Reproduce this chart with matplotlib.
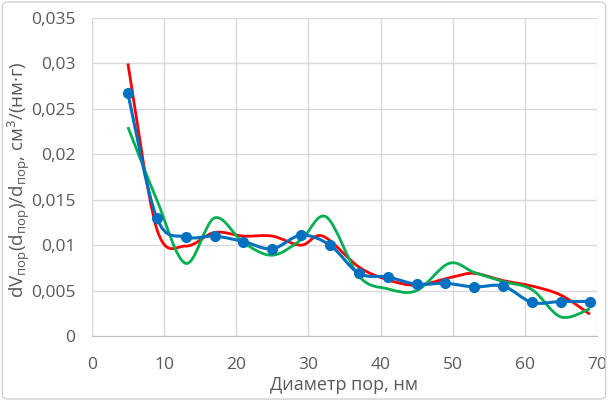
import numpy as np
import matplotlib
matplotlib.use('Agg')
import matplotlib.pyplot as plt
from matplotlib.path import Path
from matplotlib.patches import PathPatch, FancyBboxPatch
from matplotlib.ticker import FuncFormatter, MultipleLocator

plt.rcParams['font.family'] = ['Open Sans', 'DejaVu Sans']
plt.rcParams['mathtext.fontset'] = 'custom'
plt.rcParams['mathtext.rm'] = 'Open Sans'
plt.rcParams['mathtext.it'] = 'Open Sans'

# измеренные точки (синие)
x_meas = [5, 9, 13, 17, 21, 25, 29, 33, 37, 41, 45, 49, 53, 57, 61, 65, 69]
y_meas = [0.0267, 0.0130, 0.0109, 0.0110, 0.0104, 0.0096, 0.0111, 0.0100,
          0.0069, 0.0065, 0.0057, 0.0058, 0.0054, 0.0055, 0.0037, 0.0038, 0.0038]

# красная кривая
x_red = [5, 9, 13, 17, 21, 25, 29, 32, 37, 41, 45, 50, 53, 57, 61, 65, 69]
y_red = [0.0300, 0.0118, 0.0099, 0.0114, 0.0110, 0.0110, 0.0100, 0.0110,
         0.0076, 0.0062, 0.0056, 0.0065, 0.0069, 0.0061, 0.0055, 0.0045, 0.0024]

# зелёная кривая
x_green = [5, 9, 13, 17, 21, 25, 29, 32.5, 37, 41, 45, 49.5, 53, 57, 61, 65, 69]
y_green = [0.0230, 0.0150, 0.0080, 0.0130, 0.0103, 0.0089, 0.0106, 0.0131,
           0.0066, 0.0052, 0.0050, 0.0080, 0.0070, 0.0060, 0.0051, 0.0021, 0.0030]


def smooth_path(xs, ys):
    # сглаженная линия как в Excel (Catmull-Rom -> кривые Безье)
    p = np.column_stack([xs, ys]).astype(float)
    pts = np.vstack([p[0], p, p[-1]])
    verts = [tuple(p[0])]
    codes = [Path.MOVETO]
    for i in range(1, len(pts) - 2):
        c1 = pts[i] + (pts[i + 1] - pts[i - 1]) / 6
        c2 = pts[i + 1] - (pts[i + 2] - pts[i]) / 6
        verts += [tuple(c1), tuple(c2), tuple(pts[i + 1])]
        codes += [Path.CURVE4] * 3
    return Path(verts, codes)


fig = plt.figure(figsize=(6.08, 4.01), dpi=100)
ax = fig.add_axes([0.151, 0.162, 0.831, 0.793])

fig.patches.append(FancyBboxPatch((0.004, 0.005), 0.992, 0.99,
                                  boxstyle='round,pad=0,rounding_size=0.01',
                                  transform=fig.transFigure, fill=False,
                                  edgecolor='#d0d0d0', linewidth=1))

ax.add_patch(PathPatch(smooth_path(x_red, y_red), facecolor='none',
                       edgecolor='#ff0000', linewidth=2, zorder=3))
ax.add_patch(PathPatch(smooth_path(x_green, y_green), facecolor='none',
                       edgecolor='#00b050', linewidth=2, zorder=3))
ax.add_patch(PathPatch(smooth_path(x_meas, y_meas), facecolor='none',
                       edgecolor='#0070c0', linewidth=2.2, zorder=4))
ax.plot(x_meas, y_meas, linestyle='none', marker='o', markersize=7,
        color='#0070c0', zorder=5)

ax.set_xlim(0, 70)
ax.set_ylim(0, 0.035)
ax.xaxis.set_major_locator(MultipleLocator(10))
ax.yaxis.set_major_locator(MultipleLocator(0.005))
ax.yaxis.set_major_formatter(FuncFormatter(lambda v, pos: f'{v:g}'.replace('.', ',')))

ax.grid(True, color='#d9d9d9', linewidth=1)
ax.set_axisbelow(True)
for s in ['top', 'right', 'left']:
    ax.spines[s].set_visible(False)
ax.spines['bottom'].set_color('#bfbfbf')
ax.tick_params(length=0, colors='#595959')
ax.tick_params(axis='x', pad=15)
ax.tick_params(axis='y', pad=12)
for lbl in ax.get_xticklabels() + ax.get_yticklabels():
    lbl.set_family(['Liberation Sans Narrow', 'Open Sans'])
    lbl.set_fontsize(12.5)

ax.set_xlabel('Диаметр пор, нм', fontsize=13, color='#595959', labelpad=2)
ax.set_ylabel(r'dV$_{\mathregular{пор}}$(d$_{\mathregular{пор}}$)/d$_{\mathregular{пор}}$, см$^{\mathregular{3}}$/(нм·г)',
              fontsize=13.5, color='#595959')
ax.yaxis.set_label_coords(-0.118, 0.49)

fig.savefig('out.png', dpi=100)
